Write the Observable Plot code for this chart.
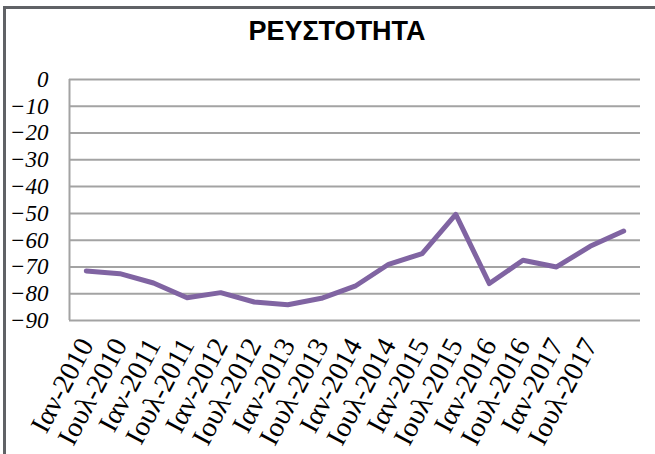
<!DOCTYPE html>
<html>
<head>
<meta charset="utf-8">
<script src="https://cdn.jsdelivr.net/npm/d3@7"></script>
<script src="https://cdn.jsdelivr.net/npm/@observablehq/plot@0.6"></script>
<style>
  html, body { margin: 0; padding: 0; background: #fff; }
  #wrap { position: relative; width: 655px; height: 454px; overflow: hidden; }
  #frame { position: absolute; left: 3px; top: 6px; width: 700px; height: 500px;
           border-top: 3px solid #606266; border-left: 3px solid #606266; }
  #title { position: relative; height: 60px; box-sizing: border-box; padding-top: 18px; padding-left: 19px;
           text-align: center; font: bold 27px/26px "Liberation Sans", Arial, sans-serif; color: #000; }
  #chart { position: relative; }
</style>
</head>
<body>
<div id="wrap">
  <div id="frame"></div>
  <div id="title">ΡΕΥΣΤΟΤΗΤΑ</div>
  <div id="chart"></div>
</div>
<script>
const labels = ["Ιαν-2010","Ιουλ-2010","Ιαν-2011","Ιουλ-2011","Ιαν-2012","Ιουλ-2012","Ιαν-2013","Ιουλ-2013","Ιαν-2014","Ιουλ-2014","Ιαν-2015","Ιουλ-2015","Ιαν-2016","Ιουλ-2016","Ιαν-2017","Ιουλ-2017",""];
const values = [-71.5,-72.5,-76,-81.5,-79.6,-83.1,-84.1,-81.7,-77.2,-69,-65,-50.4,-76.2,-67.5,-70,-62.3,-56.6];
const yTicks = [0,-10,-20,-30,-40,-50,-60,-70,-80,-90];

const data = values.map((v, i) => ({i, v}));
const labelIdx = labels.map((l, i) => i).filter(i => labels[i] !== "");

const plot = Plot.plot({
  width: 655,
  height: 394,
  marginTop: 19,
  marginBottom: 134,
  marginLeft: 69,
  marginRight: 15,
  style: {background: "transparent", overflow: "visible"},
  x: {type: "linear", domain: [-0.5, labels.length - 0.5]},
  y: {domain: [-90, 0]},
  marks: [
    Plot.ruleY(yTicks, {stroke: "#a3a3a3", strokeWidth: 2}),
    Plot.ruleX([-0.5], {y1: -90, y2: 0, stroke: "#a3a3a3", strokeWidth: 2}),
    Plot.axisY({ticks: yTicks, tickSize: 0, tickPadding: 21, label: null,
      fontSize: 23, fontFamily: "Liberation Serif", fontStyle: "italic", fill: "#000"}),
    Plot.axisX({ticks: labelIdx, tickFormat: i => labels[i], tickSize: 0, tickPadding: 20, tickRotate: -62,
      label: null, fontSize: 28, fontFamily: "Liberation Serif", fill: "#000"}),
    Plot.line(data, {x: "i", y: "v", stroke: "#8064a2", strokeWidth: 5, strokeLinejoin: "round", strokeLinecap: "round"})
  ]
});
document.getElementById("chart").appendChild(plot);
</script>
</body>
</html>
